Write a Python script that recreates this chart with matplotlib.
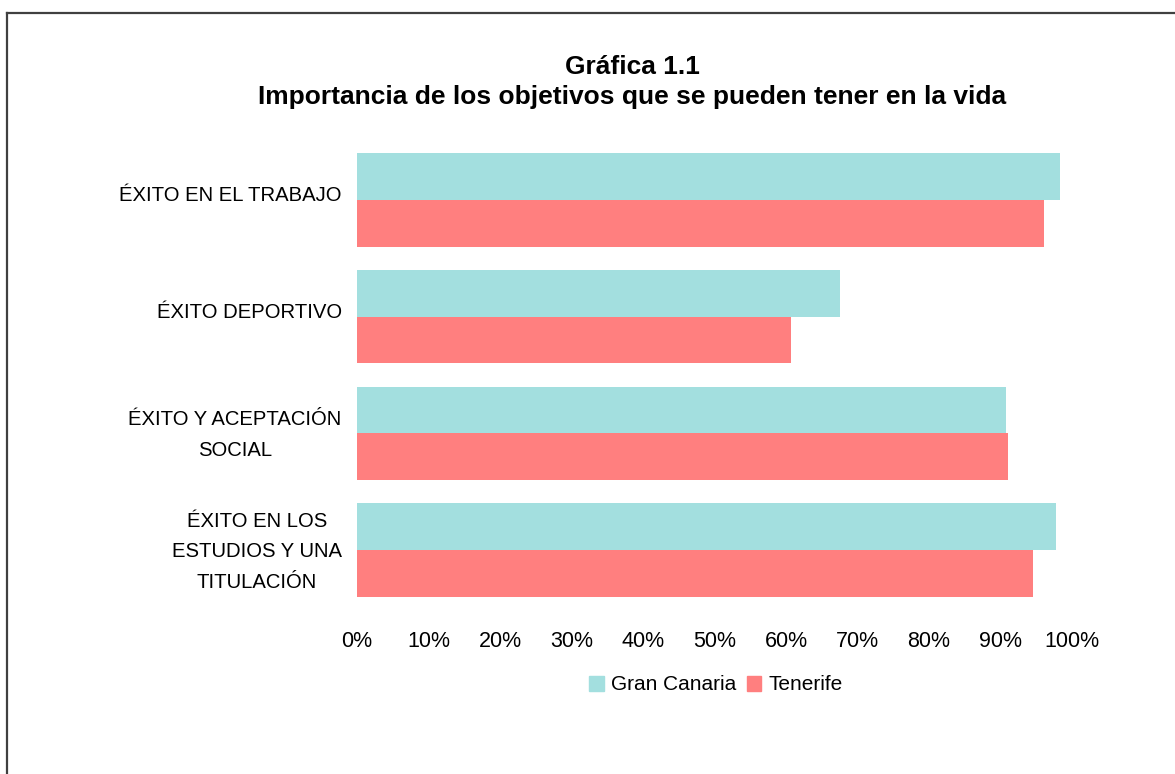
#!/usr/bin/env python3

import numpy as np
from matplotlib import pyplot as plt
from matplotlib import transforms
from matplotlib.lines import Line2D
from matplotlib.patches import Patch

# data
categories = ['ÉXITO EN EL TRABAJO', 'ÉXITO DEPORTIVO',
              'ÉXITO Y ACEPTACIÓN\nSOCIAL',
              'ÉXITO EN LOS\nESTUDIOS Y UNA\nTITULACIÓN']
gran_canaria = [0.983, 0.675, 0.907, 0.977]
tenerife = [0.961, 0.607, 0.910, 0.946]
ticks = [0, 0.1, 0.2, 0.3, 0.4, 0.5, 0.6, 0.7, 0.8, 0.9, 1.0]
tick_labels = ['0%', '10%', '20%', '30%', '40%', '50%', '60%', '70%', '80%', '90%', '100%']

c_gc = '#A3DFDF'
c_te = '#FF7F7F'

plt.rcParams['font.family'] = ['Liberation Sans', 'DejaVu Sans']

W, H = 1175, 774
fig = plt.figure(figsize=(W / 100, H / 100), dpi=100)
ax = fig.add_axes([357 / W, 1 - 608.5 / H, (1072 - 357) / W, (608.5 - 141.5) / H])

y = np.arange(len(categories))
h = 0.4
ax.barh(y - h / 2, gran_canaria, height=h, color=c_gc)
ax.barh(y + h / 2, tenerife, height=h, color=c_te)

ax.set_xlim(0, 1)
ax.set_ylim(len(categories) - 0.5, -0.5)
ax.set_xticks(ticks)
ax.set_xticklabels(tick_labels, fontsize=15.5)
ax.set_yticks(y)
ax.set_yticklabels(categories, fontsize=14.6, multialignment='center', linespacing=1.75)
ax.tick_params(axis='both', length=0, colors='black')
ax.tick_params(axis='x', pad=16)
ax.tick_params(axis='y', pad=11)
for s in ax.spines.values():
    s.set_visible(False)

# nudge category labels up a little
shift = transforms.ScaledTranslation(0, 0.06, fig.dpi_scale_trans)
for lab in ax.get_yticklabels():
    lab.set_transform(lab.get_transform() + shift)

# title
fig.text(0.538, 1 - 67 / H, 'Gráfica 1.1', ha='center', va='center',
         fontsize=19, fontweight='bold')
fig.text(0.538, 1 - 97 / H, 'Importancia de los objetivos que se pueden tener en la vida',
         ha='center', va='center', fontsize=19, fontweight='bold')

# legend
handles = [Patch(color=c_gc, label='Gran Canaria'), Patch(color=c_te, label='Tenerife')]
fig.legend(handles=handles, loc='center', bbox_to_anchor=(716 / W, 1 - 685 / H),
           ncol=2, frameon=False, fontsize=15, handlelength=0.7, handleheight=0.7,
           handletextpad=0.35, columnspacing=0.5)

# chart area frame (top and left edges visible)
fig.add_artist(Line2D([7 / W, 1.01], [1 - 13 / H, 1 - 13 / H], transform=fig.transFigure,
                      color='#404040', lw=1.6))
fig.add_artist(Line2D([7 / W, 7 / W], [1 - 13 / H, -0.01], transform=fig.transFigure,
                      color='#404040', lw=1.6))

fig.savefig('out.png', dpi=100, facecolor='white')
